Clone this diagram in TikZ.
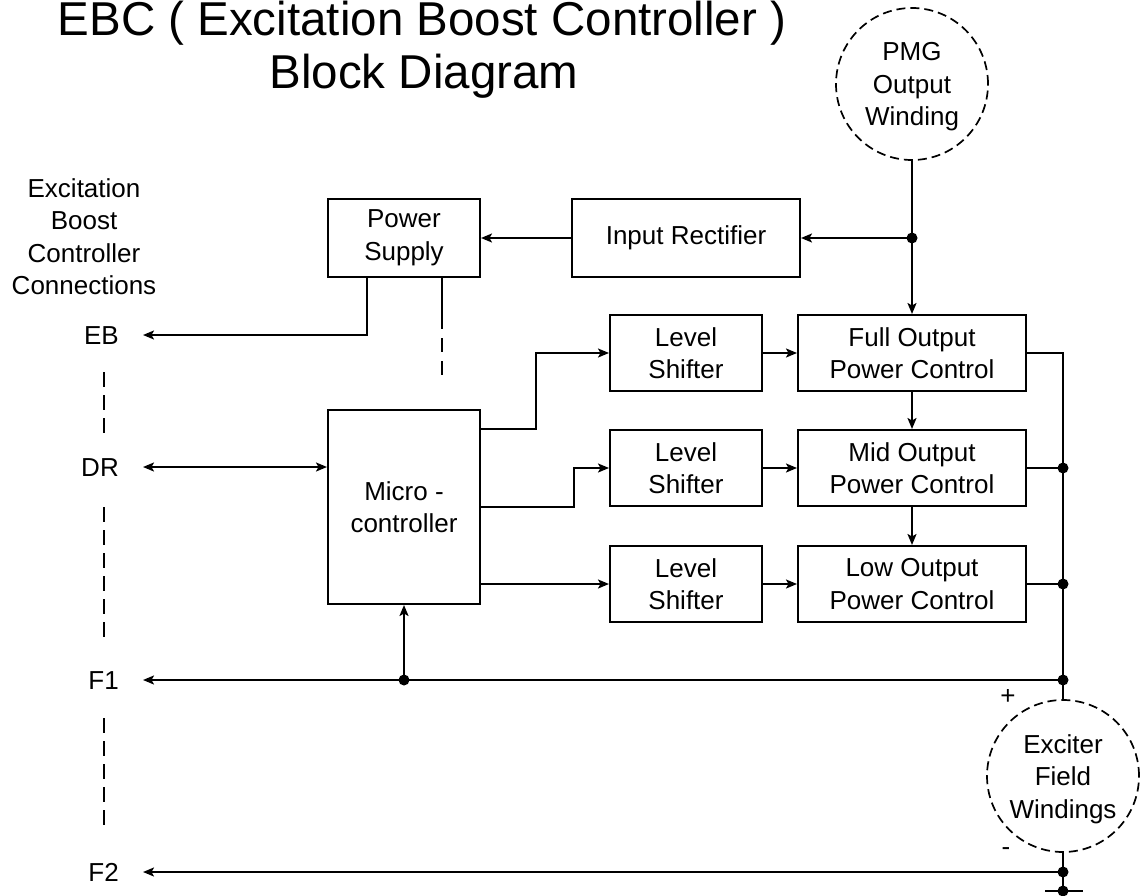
\documentclass[tikz,border=0pt]{standalone}
\usepackage{fontspec}
\setmainfont{Liberation Sans}
\usetikzlibrary{arrows.meta}
\newcommand\lblfont{\fontsize{26}{32.5}\selectfont}
\newcommand\ttlfont{\fontsize{47.5}{55}\selectfont}
\begin{document}
\begin{tikzpicture}[x=1pt,y=-1pt,
  box/.style={draw, line width=2pt, inner sep=0pt, align=center, font=\lblfont},
  wire/.style={line width=2pt},
  arr/.style={line width=2pt, -{Stealth[length=11pt,width=9pt,inset=2.5pt]}},
  darr/.style={line width=2pt, {Stealth[length=11pt,width=9pt,inset=2.5pt]}-{Stealth[length=11pt,width=9pt,inset=2.5pt]}},
  jdot/.style={circle, fill=black, inner sep=0pt, minimum size=11pt},
  dashl/.style={line width=2pt, dash pattern=on 15pt off 8pt},
  winding/.style={circle, draw, line width=1.7pt, dash pattern=on 9pt off 5pt, minimum size=152pt, inner sep=0pt},
  term/.style={anchor=base east, inner sep=0pt, font=\lblfont},
  txt/.style={inner sep=0pt, align=center, font=\lblfont}]
\useasboundingbox (0,0) rectangle (1140,896);
% title
\node[anchor=base, inner sep=0pt, font=\ttlfont] (t1) at (422,36) {EBC ( Excitation Boost Controller )};
\node[anchor=base, inner sep=0pt, font=\ttlfont] (t2) at (424,89) {Block Diagram};
% side heading
\node[txt, anchor=north] (hd) at (84,178) {Excitation\\Boost\\Controller\\Connections};
% windings
\node[winding] (pmg) at (912,84) {};
\node[txt] (pmgt) at (912,87) {PMG\\Output\\Winding};
\node[winding] (exc) at (1063,776) {};
\node[txt] (exct) at (1063,779) {Exciter\\Field\\Windings};
% boxes
\node[box, minimum width=152pt, minimum height=78pt] (ps) at (404,238) {Power\\Supply};
\node[box, minimum width=228pt, minimum height=78pt] (ir) at (686,238) {Input Rectifier};
\node[box, minimum width=152pt, minimum height=194pt] (mc) at (404,507) {Micro -\\controller};
\node[box, minimum width=152pt, minimum height=76pt] (ls1) at (686,353) {Level\\Shifter};
\node[box, minimum width=152pt, minimum height=76pt] (ls2) at (686,468) {Level\\Shifter};
\node[box, minimum width=152pt, minimum height=76pt] (ls3) at (686,584) {Level\\Shifter};
\node[box, minimum width=228pt, minimum height=76pt] (full) at (912,353) {Full Output\\Power Control};
\node[box, minimum width=228pt, minimum height=76pt] (mid) at (912,468) {Mid Output\\Power Control};
\node[box, minimum width=228pt, minimum height=76pt] (low) at (912,584) {Low Output\\Power Control};
% terminals
\node[term] (eb) at (119,344) {EB};
\node[term] (dr) at (119,476.5) {DR};
\node[term] (f1) at (119,689) {F1};
\node[term] (f2) at (119,881.5) {F2};
\coordinate (ebt) at (143,335);
\coordinate (drt) at (143,467);
\coordinate (f1t) at (143,680);
\coordinate (f2t) at (143,872);
% junctions
\node[jdot] (j1) at (912,238) {};
\node[jdot] (j4) at (1063,680) {};
\node[jdot] (j2) at (1063,468) {};
\node[jdot] (j3) at (1063,584) {};
\node[jdot] (j5) at (404,680) {};
\node[jdot] (j6) at (1063,872) {};
\node[jdot] (j7) at (1063,891) {};
\coordinate (gl) at (1045,891);
\coordinate (gr) at (1083,891);
\coordinate (bot) at (1063,900);
% PMG feed
\draw[wire] (pmg.south) -- (j1.center);
\draw[arr] (j1.center) -- (ir.east);
\draw[arr] (j1.center) -- (full.north);
\draw[arr] (ir.west) -- (ps.east);
% power supply outputs
\coordinate (ps1) at (367,277);
\coordinate (ps2) at (442,277);
\coordinate (ps3) at (442,375);
\draw[arr] (ps1) |- (ebt);
\draw[line width=2pt, dash pattern=on 52pt off 9pt on 14pt off 9pt on 14pt off 100pt] (ps2) -- (ps3);
% DR
\draw[darr] (drt) -- (drt -| mc.west);
% micro to level shifters
\coordinate (m1) at (480,429);
\coordinate (m2) at (480,507);
\coordinate (m3) at (480,584);
\draw[arr] (m1) -- (536,429) |- (ls1.west);
\draw[arr] (m2) -- (574,507) |- (ls2.west);
\draw[arr] (m3) -- (ls3.west);
% level shifters to power controls
\draw[arr] (ls1.east) -- (full.west);
\draw[arr] (ls2.east) -- (mid.west);
\draw[arr] (ls3.east) -- (low.west);
\draw[arr] (full.south) -- (mid.north);
\draw[arr] (mid.south) -- (low.north);
% output bus
\draw[wire] (full.east) -| (j4.center);
\draw[wire] (mid.east) -- (j2.center);
\draw[wire] (low.east) -- (j3.center);
\draw[arr] (j4.center) -- (f1t);
\draw[arr] (j5.center) -- (mc.south);
\draw[wire] (j4.center) -- (exc.north);
\draw[wire] (exc.south) -- (j6.center);
\draw[arr] (j6.center) -- (f2t);
\draw[wire] (j6.center) -- (bot);
\draw[wire] (gl) -- (gr);
% polarity
\node[txt] (plus) at (1008,697) {+};
\node[txt] (minus) at (1006,852) {-};
% dashed connection lines
\coordinate (d1a) at (104,372); \coordinate (d1b) at (104,434);
\coordinate (d2a) at (104,507); \coordinate (d2b) at (104,638);
\coordinate (d3a) at (104,718); \coordinate (d3b) at (104,826);
\draw[dashl] (d1a) -- (d1b);
\draw[dashl] (d2a) -- (d2b);
\draw[dashl] (d3a) -- (d3b);
\end{tikzpicture}
\end{document}
